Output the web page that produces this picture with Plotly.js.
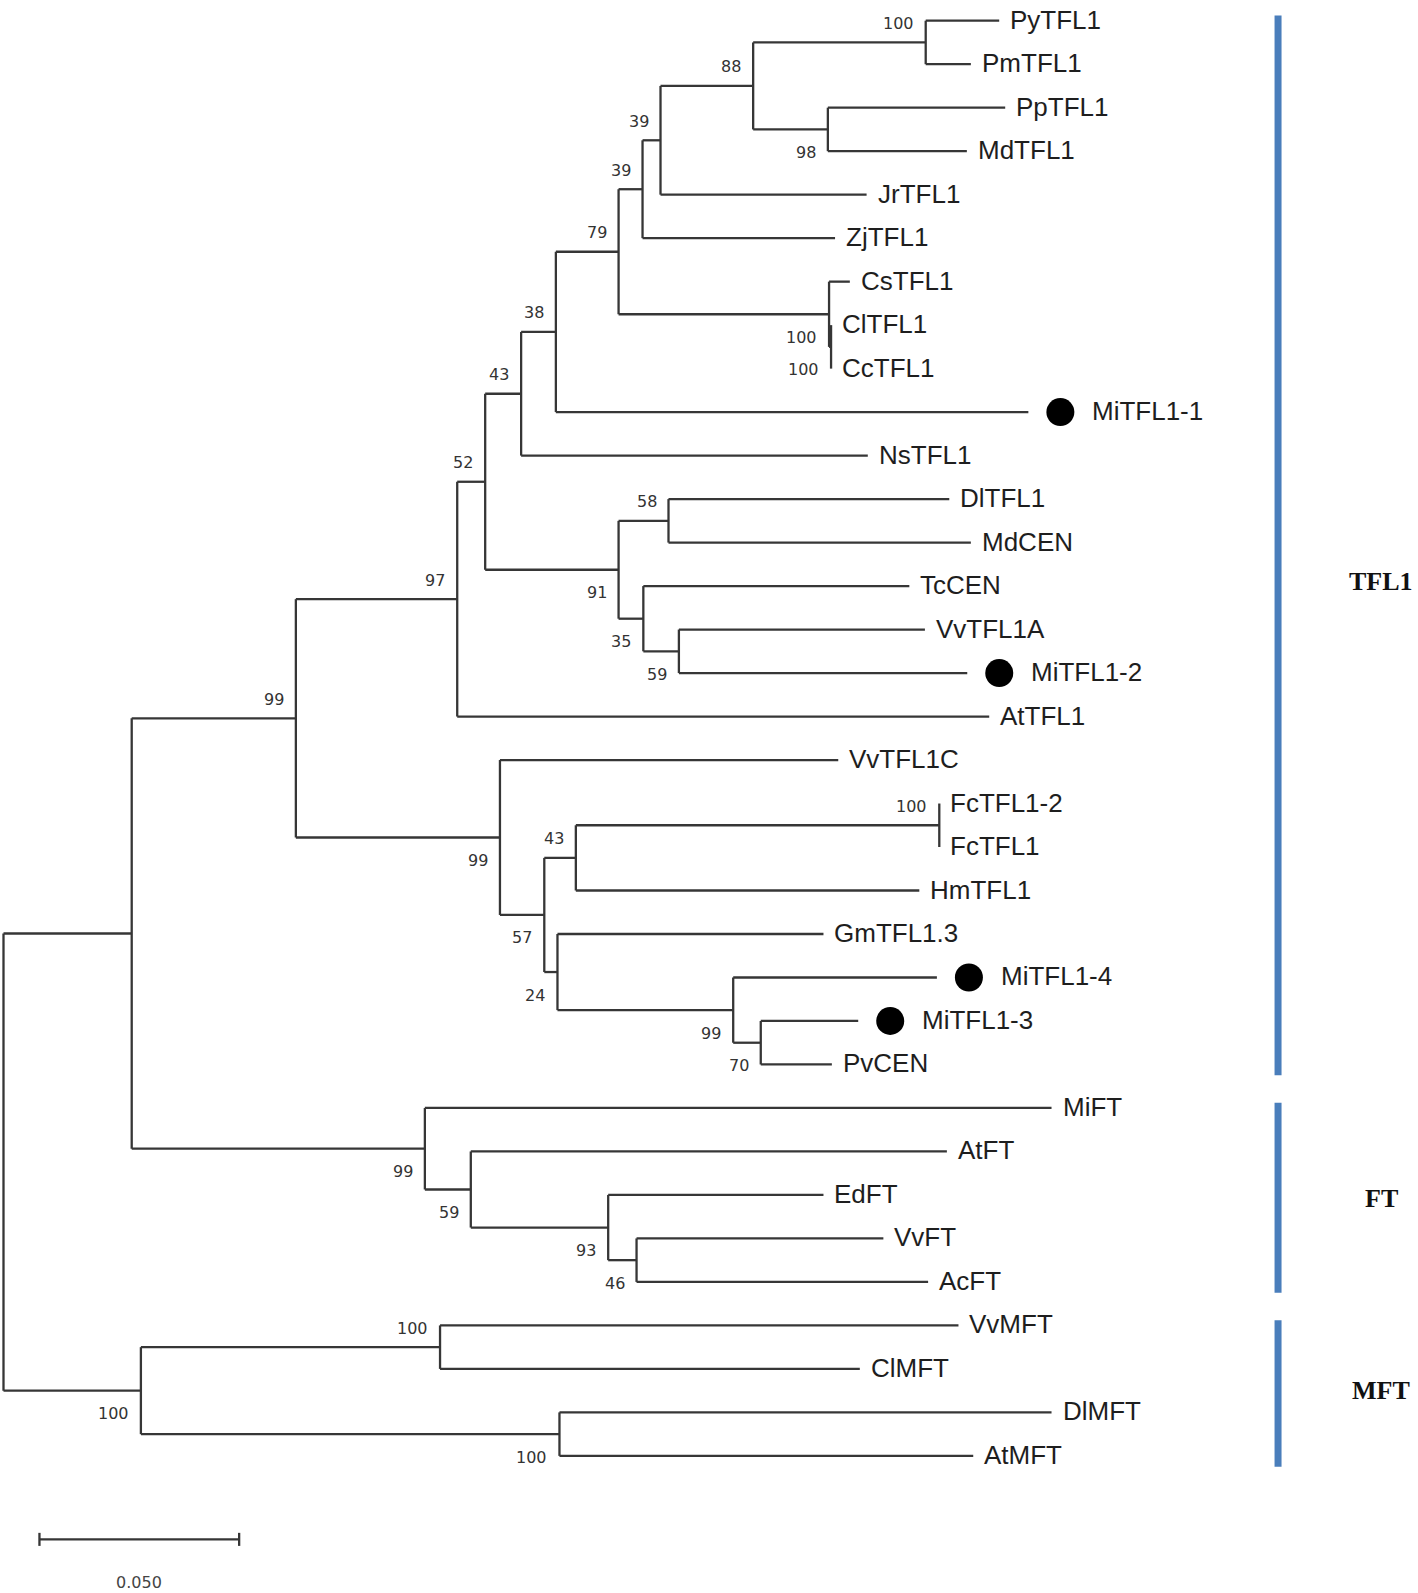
<!DOCTYPE html>
<html>
<head>
<meta charset="utf-8">
<script src="https://cdn.plot.ly/plotly-3.0.1.min.js"></script>
<style>html,body{margin:0;padding:0;background:#fff;}#chart{width:1418px;height:1593px;}</style>
</head>
<body>
<div id="chart"></div>
<script>
// ---------- DATA ----------
// leaves, top to bottom
const leafNames = ["PyTFL1","PmTFL1","PpTFL1","MdTFL1","JrTFL1","ZjTFL1","CsTFL1","ClTFL1","CcTFL1","MiTFL1-1",
  "NsTFL1","DlTFL1","MdCEN","TcCEN","VvTFL1A","MiTFL1-2","AtTFL1","VvTFL1C","FcTFL1-2","FcTFL1",
  "HmTFL1","GmTFL1.3","MiTFL1-4","MiTFL1-3","PvCEN","MiFT","AtFT","EdFT","VvFT","AcFT",
  "VvMFT","ClMFT","DlMFT","AtMFT"];
// distance of each leaf tip from the root (substitutions per site)
const leafDepth = [0.2493,0.2422,0.2508,0.2412,0.2161,0.2082,0.2119,0.2072,0.2072,0.2566,
  0.2164,0.2368,0.2422,0.2268,0.2307,0.2413,0.2468,0.2090,0.2343,0.2343,
  0.2293,0.2053,0.2337,0.2140,0.2074,0.2624,0.2362,0.2053,0.2203,0.2315,
  0.2391,0.2144,0.2624,0.2428];
// leaves marked with a black dot
const markedLeaves = ["MiTFL1-1","MiTFL1-2","MiTFL1-3","MiTFL1-4"];

// internal nodes
const nodeNames = ["n1","n2","n3","n4","n5","n6","n7","n8","n9","n10","n11","n12","n13","n14","n15","n16",
  "n17","n18","n19","n20","n21","n22","n23","n24","n25","n26","n27","n28","n29","n30","n31","n32","root"];
const nodeChildren = [
  ["PyTFL1","PmTFL1"],["PpTFL1","MdTFL1"],["n1","n2"],["n3","JrTFL1"],["n4","ZjTFL1"],
  ["ClTFL1","CcTFL1"],["CsTFL1","n6"],["n5","n7"],["n8","MiTFL1-1"],["n9","NsTFL1"],
  ["DlTFL1","MdCEN"],["VvTFL1A","MiTFL1-2"],["TcCEN","n12"],["n11","n13"],["n10","n14"],["n15","AtTFL1"],
  ["FcTFL1-2","FcTFL1"],["n17","HmTFL1"],["MiTFL1-3","PvCEN"],["MiTFL1-4","n19"],["GmTFL1.3","n20"],
  ["n18","n21"],["VvTFL1C","n22"],["n16","n23"],
  ["VvFT","AcFT"],["EdFT","n25"],["AtFT","n26"],["MiFT","n27"],["n24","n28"],
  ["VvMFT","ClMFT"],["DlMFT","AtMFT"],["n30","n31"],["n29","n32"]];
const nodeDepth = [0.2309,0.2064,0.1877,0.1645,0.1600,0.2072,0.2067,0.1540,0.1383,0.1296,
  0.1665,0.1691,0.1602,0.1540,0.1206,0.1136,
  0.2343,0.1433,0.1896,0.1827,0.1387,0.1354,0.1243,0.0732,
  0.1585,0.1514,0.1170,0.1055,0.0321,
  0.1093,0.1392,0.0344,0.0];
const nodeSupport = [100,98,88,39,39,100,100,79,38,43,
  58,59,35,91,52,97,
  100,43,70,99,24,57,99,99,
  46,93,59,99,null,
  100,100,100,null];
const supportSide = ["a","b","a","a","a","b","b","a","a","a",
  "a","b","b","b","a","a",
  "a","a","b","b","b","b","b","a",
  "b","b","b","b","a",
  "a","b","b","a"];

// clades
const cladeNames = ["TFL1","FT","MFT"];
const cladeFirst = ["PyTFL1","MiFT","VvMFT"];
const cladeLast = ["PvCEN","AcFT","AtMFT"];

// scale bar
const scaleLength = 0.05;

// ---------- LAYOUT GEOMETRY ----------
const W = 1418, H = 1593;
const pxPerUnit = 3994;
const rootPx = 3.5;
const xmin = -rootPx / pxPerUnit, xmax = xmin + W / pxPerUnit;
const rowPx = 43.49, firstRowPx = 20.7;
const ytop = -firstRowPx / rowPx, ybot = (H - firstRowPx) / rowPx;

// ---------- BUILD TREE ----------
const depth = {}, yPos = {}, kids = {};
leafNames.forEach((n, i) => { depth[n] = leafDepth[i]; yPos[n] = i; });
nodeNames.forEach((n, i) => { depth[n] = nodeDepth[i]; kids[n] = nodeChildren[i]; });
function getY(n) {
  if (n in yPos) return yPos[n];
  const ys = kids[n].map(getY);
  yPos[n] = (Math.min(...ys) + Math.max(...ys)) / 2;
  return yPos[n];
}
nodeNames.forEach(getY);

const lx = [], ly = [];
nodeNames.forEach(n => {
  const ys = kids[n].map(c => yPos[c]);
  lx.push(depth[n], depth[n], null); ly.push(Math.min(...ys), Math.max(...ys), null);
  kids[n].forEach(c => { lx.push(depth[n], depth[c], null); ly.push(yPos[c], yPos[c], null); });
});

const lineColor = "#363636";
const traces = [{
  type: "scatter", mode: "lines", x: lx, y: ly,
  line: {color: lineColor, width: 2.3}, hoverinfo: "skip", showlegend: false
}];

const dotOffsetPx = 32;
traces.push({
  type: "scatter", mode: "markers",
  x: markedLeaves.map(n => depth[n] + dotOffsetPx / pxPerUnit),
  y: markedLeaves.map(n => yPos[n]),
  marker: {color: "#000", size: 28, line: {width: 0}},
  hoverinfo: "skip", showlegend: false
});

const annotations = [];
leafNames.forEach((n, i) => {
  annotations.push({
    x: leafDepth[i], y: i, xref: "x", yref: "y", text: n, showarrow: false,
    xanchor: "left", yanchor: "middle",
    xshift: markedLeaves.includes(n) ? 62 : 9, yshift: 1,
    font: {family: "Liberation Sans, Arial, sans-serif", size: 26, color: "#1e1e1e"}
  });
});
nodeNames.forEach((n, i) => {
  if (nodeSupport[i] === null) return;
  annotations.push({
    x: nodeDepth[i], y: yPos[n], xref: "x", yref: "y", text: String(nodeSupport[i]), showarrow: false,
    xanchor: "right", yanchor: "middle", xshift: -10,
    yshift: supportSide[i] === "a" ? 19 : -23,
    font: {family: "DejaVu Sans, Verdana, sans-serif", size: 16, color: "#333"}
  });
});

const shapes = [];
const barX = 0.9013;
const cladeLabelShift = [-39, -4, 0];
cladeNames.forEach((c, i) => {
  const y0 = yPos[cladeFirst[i]] - 0.12, y1 = yPos[cladeLast[i]] + 0.25;
  shapes.push({type: "line", xref: "paper", yref: "y", x0: barX, x1: barX, y0: y0, y1: y1,
    line: {color: "#4a7ebb", width: 7}});
  annotations.push({
    x: 0.974, y: (yPos[cladeFirst[i]] + yPos[cladeLast[i]]) / 2, xref: "paper", yref: "y",
    text: "<b>" + c + "</b>", showarrow: false, xanchor: "center", yanchor: "middle",
    yshift: cladeLabelShift[i],
    font: {family: "Liberation Serif, Times New Roman, serif", size: 26, color: "#111"}
  });
});

// scale bar
const sbX0 = 0.009, sbRow = 34.92, tick = 0.15;
shapes.push({type: "line", xref: "x", yref: "y", x0: sbX0, x1: sbX0 + scaleLength, y0: sbRow, y1: sbRow, line: {color: lineColor, width: 2.3}});
shapes.push({type: "line", xref: "x", yref: "y", x0: sbX0, x1: sbX0, y0: sbRow - tick, y1: sbRow + tick, line: {color: lineColor, width: 2.3}});
shapes.push({type: "line", xref: "x", yref: "y", x0: sbX0 + scaleLength, x1: sbX0 + scaleLength, y0: sbRow - tick, y1: sbRow + tick, line: {color: lineColor, width: 2.3}});
annotations.push({
  x: sbX0 + scaleLength / 2, y: sbRow, xref: "x", yref: "y", text: scaleLength.toFixed(3), showarrow: false,
  xanchor: "center", yanchor: "middle", yshift: -43,
  font: {family: "DejaVu Sans, Verdana, sans-serif", size: 16, color: "#444"}
});

const layout = {
  width: W, height: H,
  margin: {l: 0, r: 0, t: 0, b: 0, pad: 0},
  paper_bgcolor: "#fff", plot_bgcolor: "#fff",
  showlegend: false,
  xaxis: {range: [xmin, xmax], visible: false, fixedrange: true},
  yaxis: {range: [ybot, ytop], visible: false, fixedrange: true},
  shapes: shapes, annotations: annotations
};
Plotly.newPlot("chart", traces, layout, {staticPlot: true, displayModeBar: false});
</script>
</body>
</html>
